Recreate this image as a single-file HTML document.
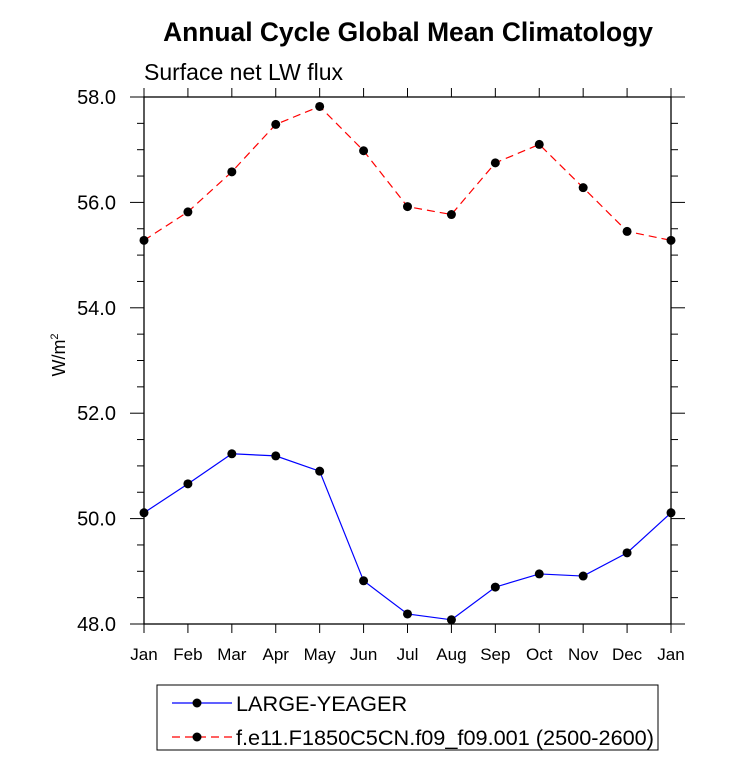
<!DOCTYPE html>
<html><head><meta charset="utf-8"><style>
body{margin:0;background:#fff;font-family:"Liberation Sans",sans-serif}
</style></head><body>
<svg width="733" height="761" style="display:block">
<text x="408" y="41" text-anchor="middle" font-size="26.4" font-weight="bold">Annual Cycle Global Mean Climatology</text>
<text x="144" y="80" font-size="23">Surface net LW flux</text>
<text transform="translate(65,355) rotate(-90)" text-anchor="middle" font-size="18">W/m<tspan dy="-7" font-size="11">2</tspan></text>
<g id="axes"></g>
<g id="series"></g>
<g>
<rect x="157" y="685" width="501" height="65" fill="none" stroke="#000" stroke-width="1"/>
<g>
<line x1="172" y1="703" x2="232" y2="703" stroke="#00f" stroke-width="1.2"/>
<circle cx="197" cy="703" r="4.5" fill="#000"/>
<text x="236" y="711" font-size="21.7">LARGE-YEAGER</text></g>
<g>
<line x1="172" y1="737" x2="232" y2="737" stroke="#f00" stroke-width="1.2" stroke-dasharray="8,5"/>
<circle cx="197" cy="737" r="4.5" fill="#000"/>
<text x="236" y="745" font-size="21.7">f.e11.F1850C5CN.f09_f09.001 (2500-2600)</text></g>
</g>
</svg>
<script>
const months=["Jan","Feb","Mar","Apr","May","Jun","Jul","Aug","Sep","Oct","Nov","Dec","Jan"];
const yTicks=[48,50,52,54,56,58];
const yTickLabels=["48.0","50.0","52.0","54.0","56.0","58.0"];
const largeYeager=[50.11,50.66,51.23,51.19,50.90,48.82,48.19,48.08,48.70,48.95,48.91,49.35,50.11];
const f1850=[55.28,55.82,56.58,57.48,57.82,56.98,55.92,55.77,56.75,57.10,56.28,55.45,55.28];
const L=144,R=671,T=97,B=624,ymin=48,ymax=58;
const xs=i=>L+(R-L)*i/(months.length-1);
const ys=v=>B-(v-ymin)/(ymax-ymin)*(B-T);
const NS="http://www.w3.org/2000/svg";
function mk(t,a,p){const e=document.createElementNS(NS,t);for(const k in a)e.setAttribute(k,a[k]);p.appendChild(e);return e;}
const ax=document.getElementById('axes');
const fr=mk('rect',{x:L,y:T,width:R-L,height:B-T,fill:'none',stroke:'#000','stroke-width':1.3},ax);


months.forEach((m,i)=>{
 const x=xs(i);
 mk('line',{x1:x,y1:B,x2:x,y2:B+9,stroke:'#000'},ax);
 mk('line',{x1:x,y1:T,x2:x,y2:T-9,stroke:'#000'},ax);
 const t=mk('text',{x:x,y:B+36,'text-anchor':'middle','font-size':17},ax);
 t.textContent=m;
 
 
});
for(let v=ymin;v<=ymax+1e-6;v+=0.5){
 const y=ys(v),maj=Math.abs(v/2-Math.round(v/2))<1e-6,len=maj?14:7;
 mk('line',{x1:L,y1:y,x2:L-len,y2:y,stroke:'#000'},ax);
 mk('line',{x1:R,y1:y,x2:R+len,y2:y,stroke:'#000'},ax);
}
yTicks.forEach((v,i)=>{
 const t=mk('text',{x:L-28,y:ys(v)+7,'text-anchor':'end','font-size':20},ax);
 t.textContent=yTickLabels[i];
 
 
});
const sg=document.getElementById('series');
function series(vals,color,dash,name){
 const g=mk('g',{},sg);
 
 
 const pl=mk('polyline',{points:vals.map((v,i)=>xs(i)+','+ys(v)).join(' '),fill:'none',stroke:color,'stroke-width':1.2},g);
 if(dash)pl.setAttribute('stroke-dasharray',dash);
 vals.forEach((v,i)=>{
  const c=mk('circle',{cx:xs(i),cy:ys(v),r:4.5,fill:'#000'},g);
  
  
 });
}
series(f1850,'#f00','8,5','series-f1850');
series(largeYeager,'#00f',null,'series-large-yeager');
</script>
</body></html>
